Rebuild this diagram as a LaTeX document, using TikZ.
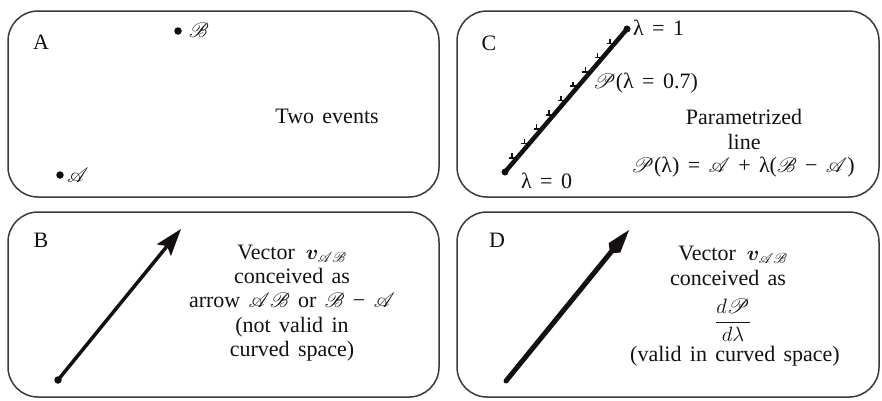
\documentclass[tikz,border=0pt]{standalone}
\usepackage{fontspec}
\setmainfont{Liberation Serif}
\usepackage{mathrsfs}
\usepackage{bm}
\usetikzlibrary{arrows.meta,calc}
\definecolor{frame}{HTML}{3A3A3A}
\definecolor{ink}{HTML}{141010}
\newcommand\mywidesp{\spaceskip=0.38em plus 0.1em\relax}
\begin{document}
\begin{tikzpicture}[x=1pt,y=-1pt,
  panel/.style={draw=frame, line width=1.5pt, rounded corners=30pt, rectangle, inner sep=0pt, outer sep=0pt},
  lbl/.style={font=\fontsize{22}{24.3}\selectfont\mywidesp, inner sep=0pt, text=ink},
  txt/.style={lbl, align=center},
  dotn/.style={circle, fill=ink, inner sep=0pt, minimum size=7.5pt},
  endblob/.style={circle, fill=ink, inner sep=0pt, minimum size=7pt},
  tickmark/.style={draw=ink, line width=1.6pt}]
\useasboundingbox (0,0) rectangle (882,400);

% panels
\node[panel, minimum width=431pt, minimum height=186pt] (pA) at (223.5,104) {};
\node[panel, minimum width=431pt, minimum height=185pt] (pB) at (223.5,304.5) {};
\node[panel, minimum width=422pt, minimum height=186pt] (pC) at (668,104) {};
\node[panel, minimum width=422pt, minimum height=185pt] (pD) at (668,304.5) {};

% panel A
\node[lbl] (tA) at (41,42) {A};
\node[dotn] (evB) at (178,31) {};
\node[lbl, anchor=west] (lB) at (189,30) {$\mathscr{B}$};
\node[dotn] (evA) at (60,175) {};
\node[lbl, anchor=west] (lA) at (67,175) {$\mathscr{A}$};
\node[lbl] (two) at (327,116) {Two events};

% panel C
\node[lbl] (tC) at (489,43) {C};
\node[endblob] (c0) at (505,172) {};
\node[endblob] (c1) at (627,29) {};
\draw[draw=ink, line width=4.5pt, line cap=round] (c0.center) -- (c1.center);
\foreach \t in {0.1,0.2,0.3,0.4,0.5,0.6,0.7,0.8,0.9}{
  \draw[tickmark] ($(c0.center)!\t!(c1.center)$) -- ++(-8,0);
  \draw[tickmark] ($(c0.center)!\t!(c1.center)+(-5,0.8)$) -- ++(0,-5.5);
}
\node[lbl, anchor=west] (l1) at (633,28) {λ = 1};
\node[lbl, anchor=west] (l07) at (593,83) {$\mathscr{P}$(λ = 0.7)};
\node[lbl, anchor=west] (l0) at (521,181) {λ = 0};
\node[lbl] (par1) at (744,117) {Parametrized};
\node[lbl] (par2) at (744,142) {line};
\node[lbl] (par3) at (743,167) {$\mathscr{P}$(λ) = $\mathscr{A}$ + λ($\mathscr{B}$ − $\mathscr{A}$)};

% panel B
\node[lbl] (tB) at (41,240) {B};
\node[dotn] (b0) at (58,380) {};
\coordinate (b1) at (181,229);
\draw[draw=ink, line width=3.5pt, -{Stealth[length=27pt,width=18pt,inset=5pt]}] (b0.center) -- (b1);
\node[txt] (txtB) at (292,303) {Vector\hspace{0.5em}$\bm{v}_{\mathscr{A}\mathscr{B}}$\\conceived as\\arrow $\mathscr{A}\mathscr{B}$ or $\mathscr{B}$ − $\mathscr{A}$\\(not valid in\\curved space)};

% panel D
\node[lbl] (tD) at (497,240) {D};
\coordinate (d0) at (506,381);
\coordinate (d1) at (629,230);
\draw[draw=ink, line width=5pt, line cap=round, -{Kite[length=30pt,width=15pt,inset=7pt]}] (d0) -- (d1);
\node[lbl] (dv) at (733,255) {Vector\hspace{0.5em}$\bm{v}_{\mathscr{A}\mathscr{B}}$};
\node[lbl] (dc) at (728,278) {conceived as};
\node[lbl, font=\fontsize{21}{24}\selectfont] (df) at (733,320) {$\displaystyle\frac{d\mathscr{P}}{d\lambda}$};
\node[lbl] (dvalid) at (735,356) {(valid in curved space)};
\end{tikzpicture}
\end{document}
